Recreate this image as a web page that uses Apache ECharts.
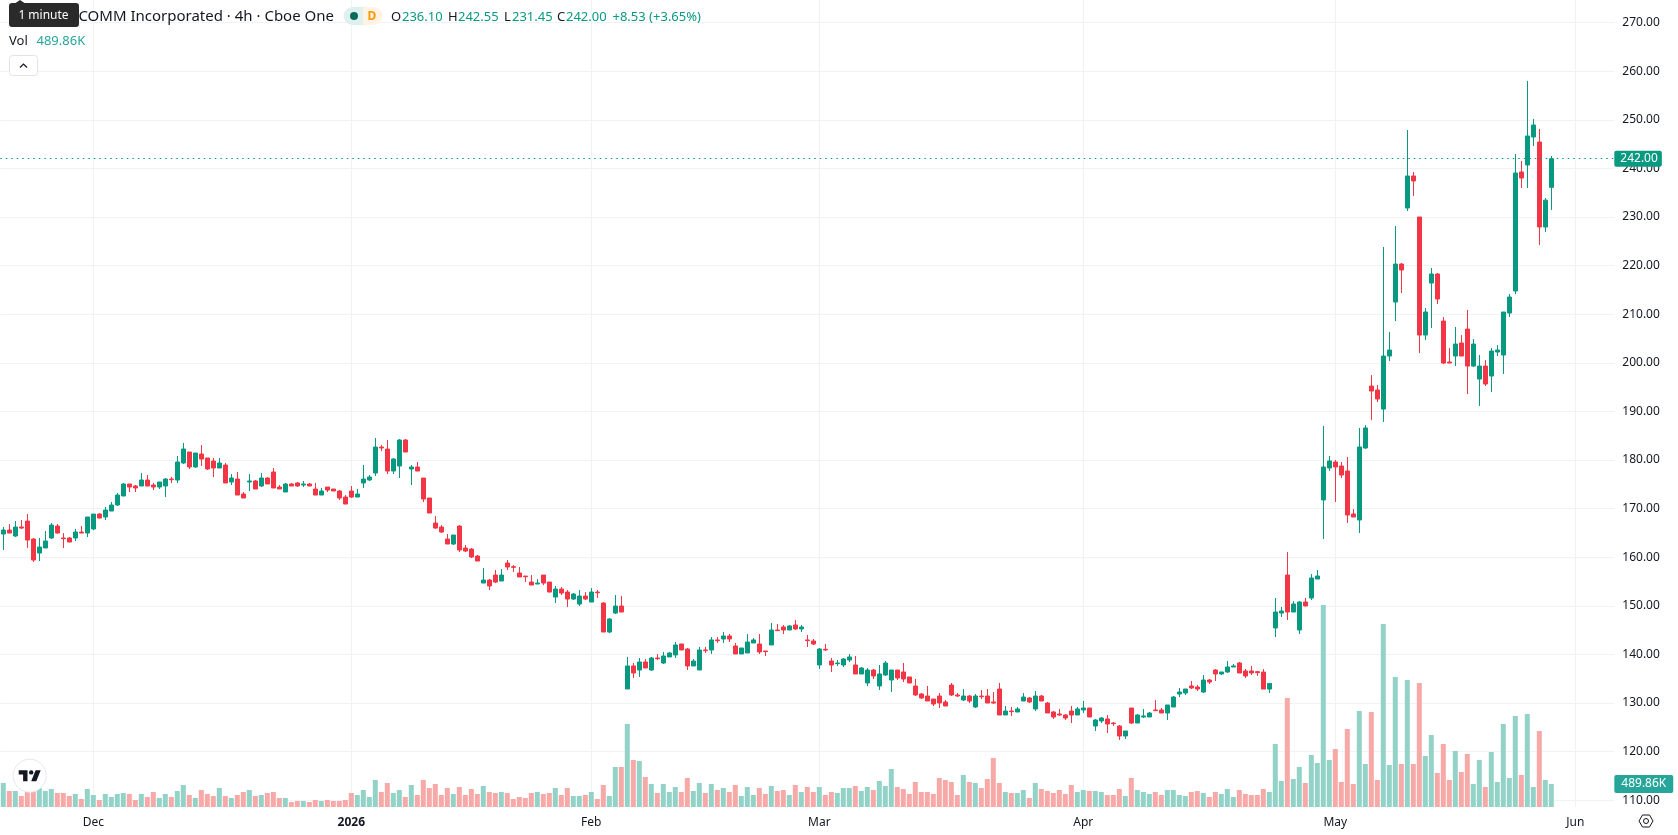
<!DOCTYPE html>
<html>
<head>
<meta charset="utf-8">
<title>QUALCOMM 4h</title>
<script src="https://cdn.jsdelivr.net/npm/echarts@6/dist/echarts.min.js"></script>
<style>html,body{margin:0;padding:0;background:#fff}#chart{width:1678px;height:835px}</style>
</head>
<body>
<div id="chart"></div>
<script>
// 4h candles, oldest first
const opens = [164.77,165.59,164.36,166.21,167.44,163.74,160.86,161.89,163.95,166.41,163.95,163.95,163.95,165.18,164.97,165.80,168.88,168.27,169.50,170.74,172.59,175.06,174.65,174.65,175.88,174.85,174.44,174.65,176.09,175.88,179.38,181.64,178.56,181.23,180.41,179.79,178.35,178.97,175.47,176.09,173.00,175.47,175.68,174.65,176.29,177.53,174.44,173.41,175.06,175.27,174.85,175.06,174.03,172.79,174.44,174.03,173.62,172.38,173.62,172.38,175.27,175.88,177.32,182.67,182.26,177.73,178.76,184.11,178.15,178.56,176.29,172.18,167.03,166.21,163.74,162.71,166.41,161.89,161.68,160.24,154.68,155.30,156.33,155.10,158.80,158.05,156.74,156.12,154.89,154.48,156.33,154.89,151.80,153.45,152.83,151.39,150.36,152.01,150.77,152.83,150.57,144.60,148.51,149.95,132.88,137.62,136.79,138.44,136.79,139.26,138.23,139.47,139.88,142.14,141.11,137.62,136.79,140.91,140.91,142.97,143.17,143.79,141.73,140.09,140.29,142.35,142.14,140.70,141.94,145.02,145.64,145.02,146.05,145.23,142.97,142.76,137.82,141.05,138.64,138.10,137.82,138.85,137.82,135.97,134.12,136.79,133.50,135.76,134.73,136.79,136.38,135.35,133.50,131.85,131.44,130.82,131.44,130.21,133.70,131.65,130.62,131.44,129.18,131.44,131.44,130.21,132.88,127.53,128.35,128.15,130.41,131.03,128.77,131.44,130.00,128.15,127.74,127.53,128.35,127.53,128.56,128.97,125.27,126.30,126.71,125.88,125.27,123.21,128.97,125.88,127.12,127.12,128.56,128.56,127.94,129.18,131.85,132.06,133.50,133.29,132.26,134.73,136.79,135.97,136.38,137.41,138.23,136.59,136.59,136.45,136.36,132.87,145.43,148.51,156.33,148.72,145.02,150.78,151.60,155.51,171.77,178.36,179.59,178.77,177.74,168.89,167.65,182.47,195.22,194.40,190.48,201.39,212.50,220.32,231.85,238.44,230.00,205.71,216.41,218.27,208.59,200.16,201.39,204.07,206.95,199.33,196.66,199.33,197.28,202.21,201.60,210.24,214.77,239.26,240.70,246.46,245.43,227.94,236.10];
const highs = [166.21,166.83,167.44,167.65,168.88,163.95,163.95,165.39,167.03,166.83,164.97,164.15,165.80,166.41,168.27,168.88,169.09,170.33,171.35,173.21,175.27,175.06,174.85,177.32,176.91,175.27,175.47,176.29,176.50,180.82,183.50,181.64,181.44,183.09,180.41,180.41,180.41,179.38,177.12,177.53,173.41,177.12,175.88,177.32,176.50,178.35,174.85,175.27,175.27,175.47,175.68,175.27,175.27,174.24,174.44,174.03,173.82,172.79,174.65,174.03,178.97,176.91,184.53,183.09,184.11,180.41,184.32,184.32,178.97,179.59,176.29,172.18,168.47,166.62,164.77,164.56,166.62,162.51,161.89,160.45,157.77,155.51,157.36,157.57,159.42,158.39,157.98,156.12,156.33,155.51,156.33,154.89,154.07,153.86,153.24,152.63,153.24,152.83,153.65,153.24,150.77,147.48,152.21,152.01,139.47,138.23,139.26,139.06,139.47,140.09,140.50,140.50,142.55,142.14,141.32,139.06,141.53,141.53,143.58,143.58,144.61,144.20,142.35,141.32,144.20,143.38,144.20,140.70,146.46,146.26,146.05,146.05,147.08,146.05,143.99,143.17,141.32,142.14,139.26,138.85,139.26,140.09,139.67,137.41,137.20,137.00,137.82,138.64,136.79,136.79,138.23,135.35,134.94,132.06,133.50,130.82,132.06,130.62,134.12,132.06,132.88,131.65,131.85,132.68,132.88,132.26,134.12,129.38,129.18,129.18,132.06,131.23,132.47,131.65,130.21,128.35,128.77,127.74,129.38,129.18,130.41,128.97,126.71,127.12,127.53,126.09,125.47,124.24,128.97,127.74,128.77,128.15,130.62,128.97,129.59,131.44,133.09,132.88,134.53,133.70,135.76,134.94,137.00,136.38,138.64,138.03,138.44,137.00,137.62,136.59,136.98,134.03,151.60,149.75,161.07,150.98,150.98,151.60,156.54,157.36,187.00,180.83,180.00,179.59,180.62,169.92,186.59,187.20,197.48,195.43,223.82,206.33,228.15,220.53,247.90,239.26,230.00,211.27,219.50,218.47,209.42,203.04,207.36,205.71,210.86,204.89,201.60,200.57,203.04,203.65,210.45,214.15,242.96,241.52,257.99,250.17,248.11,233.91,242.55];
const lows = [161.48,164.90,164.15,165.80,161.89,159.01,159.21,161.89,163.74,164.90,161.89,163.12,163.33,164.97,164.15,165.59,167.99,167.65,169.50,170.53,172.59,173.41,173.41,174.65,174.65,173.82,174.03,172.38,175.27,175.27,179.17,178.15,178.35,178.76,177.94,176.50,178.35,175.27,174.85,172.79,172.18,173.62,174.03,174.44,175.06,174.24,174.03,173.41,174.65,174.44,174.44,174.65,172.79,172.79,173.41,173.62,171.77,170.94,172.18,172.38,174.24,175.68,176.71,181.85,177.12,177.12,176.29,181.64,174.85,177.73,171.35,169.09,165.80,164.97,162.71,162.51,161.06,161.06,159.83,159.21,154.68,153.24,154.68,155.10,157.36,156.95,155.92,154.89,154.27,154.48,154.27,152.83,150.57,152.21,149.75,151.19,149.95,151.19,150.77,151.60,144.60,144.39,148.30,148.72,132.88,135.15,135.35,137.20,136.59,138.85,138.03,139.47,139.26,140.91,136.79,137.62,136.79,140.29,140.09,142.35,142.35,142.55,140.09,140.09,140.29,142.35,140.09,139.67,141.94,144.82,144.20,145.02,145.02,144.61,141.53,141.94,137.00,140.70,136.38,137.62,137.41,138.44,135.97,135.97,133.50,134.94,132.68,135.56,132.26,134.73,134.32,134.12,131.44,130.82,130.41,129.38,128.97,129.38,131.44,131.23,130.41,130.00,128.97,130.82,130.00,129.79,127.53,127.53,127.33,128.15,130.41,130.00,128.35,130.41,127.94,126.71,127.33,126.50,125.88,127.53,127.94,127.12,124.24,125.88,123.83,125.27,122.39,122.59,125.68,125.88,126.91,127.12,128.35,127.94,126.50,129.18,131.23,131.65,132.88,132.47,132.06,133.91,134.53,135.76,136.17,137.41,136.17,135.15,135.76,135.56,132.87,132.04,143.58,147.69,147.07,148.72,144.19,149.96,151.19,155.51,163.74,177.74,171.36,176.30,167.04,168.27,164.98,182.27,188.20,191.93,187.81,200.36,208.59,214.36,231.23,234.32,202.01,204.68,207.15,212.09,199.74,199.95,199.33,201.39,193.57,199.13,191.10,195.22,193.98,201.39,197.69,209.42,214.15,235.97,235.97,244.61,224.23,226.91,231.45];
const closes = [165.59,164.97,166.21,166.00,163.53,159.42,162.09,163.33,166.62,164.97,163.81,163.12,165.18,164.97,168.27,168.88,168.06,169.71,170.74,172.79,175.06,174.44,174.24,175.88,174.65,174.44,175.47,176.09,175.95,179.59,182.26,178.56,181.44,180.20,178.15,178.35,179.38,175.27,176.29,172.79,172.18,175.68,174.03,176.29,175.06,174.24,174.03,175.06,174.65,174.65,175.06,174.65,172.79,173.62,173.82,173.62,172.18,170.94,172.38,173.00,176.09,176.50,182.67,182.47,177.73,180.20,184.11,181.64,178.56,177.73,171.97,169.09,166.00,165.18,162.71,164.56,161.48,161.27,160.04,159.21,155.30,154.07,154.89,156.33,157.98,157.91,155.92,155.99,154.27,154.68,154.68,152.83,153.45,152.63,151.39,152.42,152.01,151.39,152.83,152.69,144.60,147.28,149.95,148.72,137.62,136.17,138.44,137.20,139.26,139.12,139.67,140.29,141.94,140.91,137.62,138.64,140.91,140.77,142.97,142.83,143.79,143.17,140.09,141.32,142.55,142.97,140.50,140.57,145.02,144.89,145.02,145.85,145.23,145.64,142.83,142.14,141.11,140.91,137.82,138.23,139.06,139.47,135.97,137.20,136.79,135.56,135.97,138.23,136.79,135.15,134.94,134.12,131.65,131.03,130.41,129.79,130.00,129.38,131.65,131.44,131.44,130.41,131.44,131.30,130.00,130.00,127.53,128.35,128.22,128.77,131.23,130.21,131.44,130.41,127.94,127.12,127.53,126.91,127.53,128.77,128.97,127.12,126.50,126.91,125.68,125.75,123.21,124.24,125.88,127.53,127.33,127.94,128.42,127.94,129.59,131.23,132.26,132.88,133.09,132.88,134.73,134.32,135.97,136.38,137.41,137.62,136.17,135.56,136.17,136.24,132.87,134.03,148.72,148.93,148.72,150.37,150.78,149.96,155.72,156.13,178.56,179.80,178.56,176.91,168.68,168.27,182.68,186.59,194.19,192.55,201.39,202.63,220.32,219.09,238.44,237.41,205.71,210.45,218.27,213.12,199.95,199.95,203.86,201.39,199.33,203.86,199.33,195.63,202.42,202.63,210.45,213.53,239.05,238.02,246.67,248.93,227.94,233.47,242.00];
// traded volume per candle, in thousands
const volumes = [511,341,341,234,320,383,405,341,383,298,298,234,277,170,383,256,149,277,213,277,298,277,149,277,213,320,192,277,213,341,469,256,192,362,277,234,405,234,192,256,320,362,234,256,298,320,192,192,107,128,128,107,149,128,149,128,128,149,298,256,362,213,575,320,511,298,362,213,469,256,575,405,490,256,405,277,426,256,383,277,447,320,298,320,298,170,213,192,298,320,277,298,405,256,405,234,234,256,320,170,469,234,852,852,1768,1001,980,639,490,298,490,320,426,320,618,341,511,298,490,362,405,320,469,234,426,256,405,277,447,341,362,256,469,320,426,320,426,256,320,298,405,405,447,341,426,362,554,447,809,426,383,277,533,320,320,277,618,575,533,256,682,533,511,405,596,1044,511,320,298,298,362,192,511,383,341,298,362,277,469,320,362,341,341,320,256,256,383,234,618,362,320,277,320,256,362,362,256,234,320,341,298,213,320,277,383,213,362,277,256,256,383,320,1342,554,2322,596,852,511,1108,937,4303,1001,1235,533,1661,490,2045,916,2024,575,3898,895,2769,916,2705,916,2641,1086,1534,724,1342,575,1193,746,1129,490,1001,426,1172,533,1768,618,1938,682,1981,426,1619,575,489.86];

// time axis: candles before the first labelled month, then candles in each labelled month
const leadingCandles = 15;
const tickLabels = ['Dec', '2026', 'Feb', 'Mar', 'Apr', 'May', 'Jun'];
const candlesInMonth = [43, 40, 38, 44, 42, 40, 7];
const boldTicks = ['2026'];
const priceTicksStep = 10;

const symbolTitle = 'QUALCOMM Incorporated · 4h · Cboe One';
const priceMin = 110, priceMax = 270;

const UP = '#089981', DOWN = '#F23645', UP_TAG = '#26a69a', INK = '#131722', GRID = '#f1f2f4';
const VOL_UP = '#93d2c7', VOL_DOWN = '#f7a9a8';
const FONT = '"Noto Sans", sans-serif';

// One category per slot; only the first slot of a month carries a plain label
const categories = [];
for (let k = 0; k < leadingCandles; k++) categories.push('·' + k);
tickLabels.forEach((label, m) => {
  for (let k = 0; k < candlesInMonth[m]; k++) categories.push(k === 0 ? label : label + '·' + k);
});
const isMonthStart = (i, name) => tickLabels.includes(name);

const SLOT = 6;
const plotLeft = 0.3, plotWidth = categories.length * SLOT;
const PRICE_TOP = 22.6, PRICE_HEIGHT = 777.6, PANE_HEIGHT = 807;
const lastVolume = volumes[volumes.length - 1];
const n = closes.length;
const lastOpen = opens[n - 1], lastHigh = highs[n - 1], lastLow = lows[n - 1], lastClose = closes[n - 1];
const prevClose = closes[n - 2];
const change = lastClose - prevClose;

const candleData = closes.map((c, i) => [opens[i], c, lows[i], highs[i]]);
const volumeData = volumes.map((v, i) => ({
  value: v,
  itemStyle: { color: closes[i] >= opens[i] ? VOL_UP : VOL_DOWN }
}));

function legendText(x, y, text, fill, extra) {
  return { type: 'text', x, y, z: 50, silent: true,
    style: Object.assign({ text, fill, font: '13px ' + FONT, textVerticalAlign: 'middle' }, extra || {}) };
}

const f2 = v => v.toFixed(2);
const legend = [
  legendText(334, 17, symbolTitle, INK, { font: '15px ' + FONT, textAlign: 'right' }),
  // data-source status pill
  { type: 'rect', z: 50, silent: true, shape: { x: 343.5, y: 7, width: 19.5, height: 18, r: [9, 0, 0, 9] }, style: { fill: '#dff1ee' } },
  { type: 'rect', z: 50, silent: true, shape: { x: 363, y: 7, width: 19.5, height: 18, r: [0, 9, 9, 0] }, style: { fill: '#fff3e5' } },
  { type: 'circle', z: 51, silent: true, shape: { cx: 354, cy: 16, r: 4 }, style: { fill: '#0b6b5b' } },
  legendText(372, 16.5, 'D', '#ff9800', { textAlign: 'center', font: 'bold 12px ' + FONT }),
  legendText(391, 17, 'O', INK), legendText(402, 17, f2(lastOpen), UP),
  legendText(448, 17, 'H', INK), legendText(458, 17, f2(lastHigh), UP),
  legendText(504, 17, 'L', INK), legendText(512, 17, f2(lastLow), UP),
  legendText(557, 17, 'C', INK), legendText(566, 17, f2(lastClose), UP),
  legendText(612.5, 17, `+${f2(change)} (+${f2(change / prevClose * 100)}%)`, UP),
  legendText(9, 41.5, 'Vol', INK),
  legendText(36.5, 41.5, f2(lastVolume) + 'K', UP_TAG),
  // collapse button
  { type: 'rect', z: 50, silent: true, shape: { x: 9.5, y: 55.5, width: 28, height: 20, r: 3 }, style: { fill: '#fff', stroke: '#e0e3eb' } },
  { type: 'polyline', z: 51, silent: true, shape: { points: [[20, 67.5], [23.5, 64], [27, 67.5]] }, style: { fill: 'none', stroke: INK, lineWidth: 1.2 } },
  // hover hint lying over the title
  { type: 'polygon', z: 60, silent: true, shape: { points: [[14, 4], [20, 0], [26, 4]] }, style: { fill: '#2a2a2a' } },
  { type: 'rect', z: 60, silent: true, shape: { x: 9, y: 3, width: 70, height: 24, r: 3 }, style: { fill: '#2a2a2a' } },
  Object.assign(legendText(43.5, 16, '1 minute', '#fff', { font: '12px ' + FONT, textAlign: 'center' }), { z: 61 }),
  // vendor mark
  { type: 'circle', z: 50, silent: true, shape: { cx: 29.7, cy: 775.7, r: 16.5 }, style: { fill: '#fff', stroke: '#e6e8ee', lineWidth: 1 } },
  { type: 'polygon', z: 51, silent: true, shape: { points: [[27.5, 770.2], [18.7, 770.2], [18.7, 774.6], [23.1, 774.6], [23.1, 781.2], [27.5, 781.2]] }, style: { fill: INK } },
  { type: 'polygon', z: 51, silent: true, shape: { points: [[36.3, 781.2], [31.2, 781.2], [35.6, 770.2], [40.7, 770.2]] }, style: { fill: INK } },
  { type: 'circle', z: 51, silent: true, shape: { cx: 31.2, cy: 772.4, r: 2.2 }, style: { fill: INK } },
  // scale settings
  { type: 'polygon', z: 50, silent: true, shape: { points: [[1639, 821], [1642.5, 815], [1649.5, 815], [1653, 821], [1649.5, 827], [1642.5, 827]] }, style: { fill: 'none', stroke: INK, lineWidth: 1 } },
  { type: 'circle', z: 50, silent: true, shape: { cx: 1646, cy: 821, r: 2.5 }, style: { fill: 'none', stroke: INK, lineWidth: 1 } }
];

const tagLabel = (text, background, padding) => ({
  show: true, position: 'end', distance: 0, formatter: text,
  color: '#fff', fontFamily: FONT, fontSize: 12,
  backgroundColor: background, padding, align: 'left', borderRadius: 2
});

const chart = echarts.init(document.getElementById('chart'), null, { renderer: 'canvas' });
chart.setOption({
  animation: false,
  backgroundColor: '#fff',
  grid: [
    { left: plotLeft, top: PRICE_TOP, width: plotWidth, height: PRICE_HEIGHT, containLabel: false },
    { left: plotLeft, top: 0, width: plotWidth, height: PANE_HEIGHT, containLabel: false }
  ],
  xAxis: [
    { type: 'category', gridIndex: 0, data: categories, axisLine: { show: false }, axisTick: { show: false },
      axisLabel: { show: false }, splitLine: { show: false } },
    { type: 'category', gridIndex: 1, data: categories, axisLine: { show: false }, axisTick: { show: false },
      splitLine: { show: true, interval: isMonthStart, alignWithLabel: true, lineStyle: { color: GRID, width: 1 } },
      axisLabel: {
        interval: isMonthStart, margin: 10, color: INK, fontFamily: FONT, fontSize: 12, hideOverlap: false,
        formatter: v => boldTicks.includes(v) ? `{b|${v}}` : v,
        rich: { b: { fontWeight: 'bold', color: INK, fontFamily: FONT, fontSize: 12 } }
      } }
  ],
  yAxis: [
    { type: 'value', gridIndex: 0, position: 'right', min: priceMin, max: priceMax, interval: priceTicksStep,
      axisLine: { show: false }, axisTick: { show: false },
      splitLine: { show: true, lineStyle: { color: GRID, width: 1 } },
      axisLabel: { color: INK, fontFamily: FONT, fontSize: 12, margin: 8, padding: [2, 0, 0, 0], formatter: v => v.toFixed(2), showMinLabel: true, showMaxLabel: true } },
    { type: 'value', gridIndex: 1, min: 0, max: lastVolume * PANE_HEIGHT / 23, show: false }
  ],
  series: [
    { type: 'bar', name: 'Volume', xAxisIndex: 1, yAxisIndex: 1, data: volumeData, barWidth: 5, z: 2, silent: true,
      markLine: { silent: true, symbol: 'none', animation: false, lineStyle: { color: 'transparent' },
        label: tagLabel(f2(lastVolume) + 'K', UP_TAG, [3, 7, 3, 7]), data: [{ yAxis: lastVolume }] } },
    { type: 'candlestick', name: 'Price', xAxisIndex: 0, yAxisIndex: 0, data: candleData, barWidth: 5, z: 3, silent: true, clip: false,
      itemStyle: { color: UP, color0: DOWN, borderColor: UP, borderColor0: DOWN, borderWidth: 1 },
      markLine: { silent: true, symbol: 'none', animation: false,
        lineStyle: { color: UP, type: [1.5, 4], width: 1 },
        label: tagLabel(f2(lastClose), UP, [2, 4, 2, 6]), data: [{ yAxis: lastClose }] } }
  ],
  graphic: legend
});
</script>
</body>
</html>
